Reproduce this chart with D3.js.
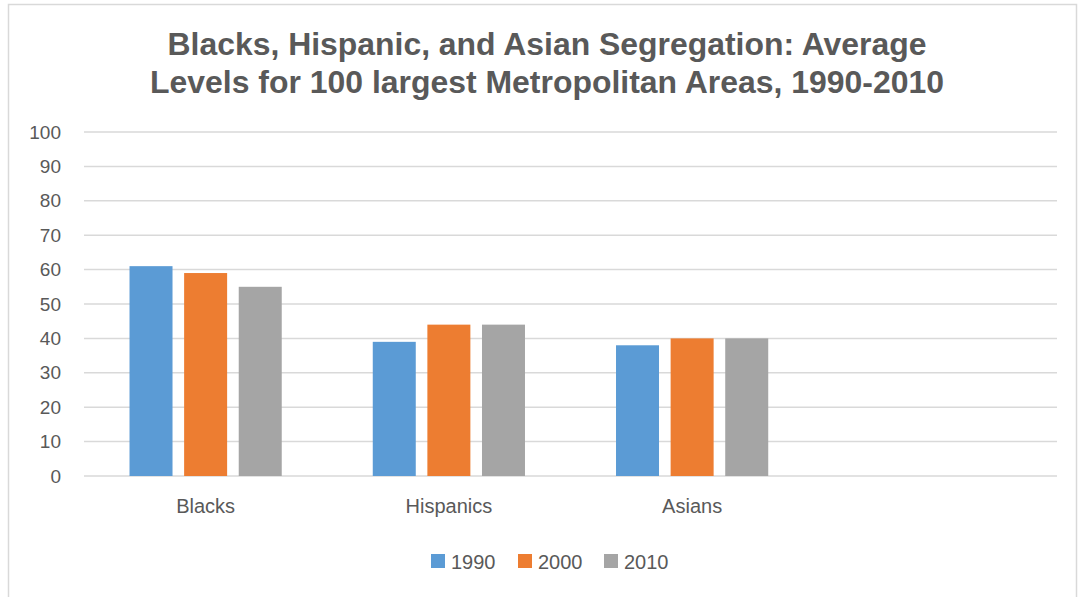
<!DOCTYPE html>
<html><head><meta charset="utf-8">
<script src="https://cdn.jsdelivr.net/npm/d3@7"></script>
<style>body{margin:0;background:#fff}svg{display:block}</style>
</head><body>
<svg id="c" width="1078" height="597"></svg>
<script>
const categories = ["Blacks", "Hispanics", "Asians", ""];
const seriesNames = ["1990", "2000", "2010"];
const v1990 = [61, 39, 38, null];
const v2000 = [59, 44, 40, null];
const v2010 = [55, 44, 40, null];
const yTicks = [0, 10, 20, 30, 40, 50, 60, 70, 80, 90, 100];
const colors = ["#5b9bd5", "#ed7d31", "#a5a5a5"];
const titleLines = ["Blacks, Hispanic, and Asian Segregation: Average", "Levels for 100 largest Metropolitan Areas, 1990-2010"];
const titleWidths = [759, 794];

const svg = d3.select("#c");
const font = "'Liberation Sans', Arial, sans-serif";
svg.append("rect").attr("x", 8.5).attr("y", 4.5).attr("width", 1068).attr("height", 600)
  .attr("fill", "#fff").attr("stroke", "#d9d9d9").attr("stroke-width", 1.5);

const x0 = d3.scaleBand().domain(d3.range(categories.length)).range([84, 1057]).paddingInner(0).paddingOuter(0);
const y = d3.scaleLinear().domain([0, 100]).range([476, 132]);

// gridlines
svg.append("g").selectAll("line").data(yTicks).join("line")
  .attr("x1", 84).attr("x2", 1057).attr("y1", d => y(d)).attr("y2", d => y(d))
  .attr("stroke", "#d9d9d9").attr("stroke-width", 1.5);

// y axis
const ya = svg.append("g").attr("transform", "translate(61,0)")
  .call(d3.axisLeft(y).tickValues(yTicks).tickSize(0).tickPadding(0));
ya.select(".domain").remove();
ya.selectAll("text").attr("font-family", font).attr("font-size", 19).attr("fill", "#595959");

// bars
const series = [v1990, v2000, v2010];
const barW = x0.bandwidth() * 43 / 243.25;
const gap = barW * 0.27;
const groupW = 3 * barW + 2 * gap;
series.forEach((vals, si) => {
  svg.append("g").selectAll("rect").data(vals.map((v, i) => ({v, i})).filter(d => d.v != null)).join("rect")
    .attr("x", d => x0(d.i) + (x0.bandwidth() - groupW) / 2 + si * (barW + gap))
    .attr("y", d => y(d.v)).attr("width", barW).attr("height", d => y(0) - y(d.v))
    .attr("fill", colors[si]);
});

// x labels
const xa = svg.append("g").attr("transform", `translate(0,${y(0)})`)
  .call(d3.axisBottom(x0).tickFormat(i => categories[i]).tickSize(0).tickPadding(22));
xa.select(".domain").remove();
xa.selectAll("text").attr("font-family", font).attr("font-size", 20).attr("fill", "#595959")
  .attr("dy", null).attr("y", 37);

// title
svg.append("g").selectAll("text").data(titleLines).join("text")
  .attr("x", 547).attr("y", (d, i) => 54.5 + i * 38).attr("text-anchor", "middle")
  .attr("font-family", font)
  .attr("font-weight", "bold").attr("font-size", 32).attr("fill", "#595959")
  .attr("textLength", (d, i) => titleWidths[i]).attr("lengthAdjust", "spacingAndGlyphs")
  .text(d => d);

// legend
const legX = [431, 518, 604];
const lg = svg.append("g").selectAll("g").data(seriesNames).join("g")
  .attr("transform", (d, i) => `translate(${legX[i]},554)`);
lg.append("rect").attr("width", 14).attr("height", 14).attr("fill", (d, i) => colors[i]);
lg.append("text").attr("x", 20).attr("y", 14.5).attr("font-family", font).attr("font-size", 20)
  .attr("fill", "#595959").text(d => d);
</script>
</body></html>
